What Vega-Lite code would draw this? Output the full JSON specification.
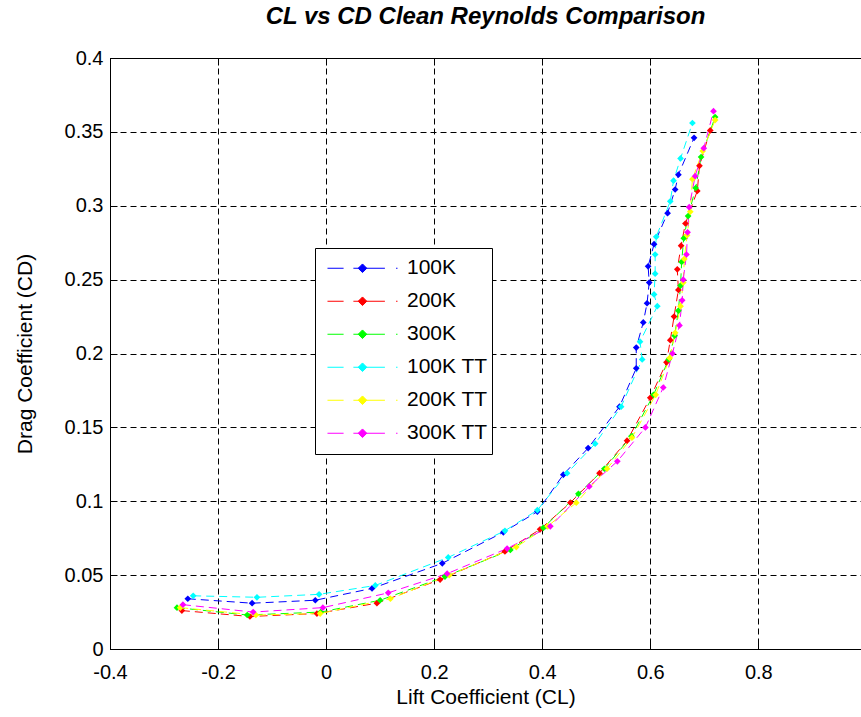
{
  "$schema": "https://vega.github.io/schema/vega-lite/v6.json",
  "autosize": {"type": "none"},
  "padding": {"left": 110, "top": 58, "right": 0, "bottom": 68},
  "width": 751,
  "height": 591,
  "background": "white",
  "title": {
    "text": "CL vs CD Clean Reynolds Comparison",
    "font": "Liberation Sans",
    "fontSize": 24,
    "fontWeight": "bold",
    "fontStyle": "italic",
    "color": "#000",
    "anchor": "middle",
    "offset": 19
  },
  "config": {
    "view": {"stroke": "#000", "strokeWidth": 1},
    "axis": {
      "labelFont": "Liberation Sans",
      "titleFont": "Liberation Sans",
      "labelColor": "#000",
      "titleColor": "#000",
      "labelFontSize": 20,
      "titleFontSize": 21,
      "titleFontWeight": "normal",
      "domainColor": "#000",
      "tickColor": "#000",
      "gridColor": "#000",
      "gridDash": [6, 4],
      "gridOpacity": 1,
      "gridWidth": 1
    }
  },
  "data": {
    "values": [
      {"s": "100K", "i": 1, "cl": -0.256, "cd": 0.034},
      {"s": "100K", "i": 2, "cl": -0.137, "cd": 0.031},
      {"s": "100K", "i": 3, "cl": -0.020, "cd": 0.033},
      {"s": "100K", "i": 4, "cl": 0.085, "cd": 0.041},
      {"s": "100K", "i": 5, "cl": 0.215, "cd": 0.058},
      {"s": "100K", "i": 6, "cl": 0.328, "cd": 0.079},
      {"s": "100K", "i": 7, "cl": 0.391, "cd": 0.093},
      {"s": "100K", "i": 8, "cl": 0.439, "cd": 0.118},
      {"s": "100K", "i": 9, "cl": 0.485, "cd": 0.136},
      {"s": "100K", "i": 10, "cl": 0.543, "cd": 0.164},
      {"s": "100K", "i": 11, "cl": 0.574, "cd": 0.190},
      {"s": "100K", "i": 12, "cl": 0.574, "cd": 0.204},
      {"s": "100K", "i": 13, "cl": 0.587, "cd": 0.221},
      {"s": "100K", "i": 14, "cl": 0.594, "cd": 0.234},
      {"s": "100K", "i": 15, "cl": 0.598, "cd": 0.248},
      {"s": "100K", "i": 16, "cl": 0.596, "cd": 0.259},
      {"s": "100K", "i": 17, "cl": 0.607, "cd": 0.274},
      {"s": "100K", "i": 18, "cl": 0.632, "cd": 0.295},
      {"s": "100K", "i": 19, "cl": 0.646, "cd": 0.311},
      {"s": "100K", "i": 20, "cl": 0.652, "cd": 0.321},
      {"s": "100K", "i": 21, "cl": 0.681, "cd": 0.346},

      {"s": "200K", "i": 1, "cl": -0.267, "cd": 0.026},
      {"s": "200K", "i": 2, "cl": -0.141, "cd": 0.022},
      {"s": "200K", "i": 3, "cl": -0.017, "cd": 0.024},
      {"s": "200K", "i": 4, "cl": 0.094, "cd": 0.031},
      {"s": "200K", "i": 5, "cl": 0.211, "cd": 0.047},
      {"s": "200K", "i": 6, "cl": 0.331, "cd": 0.066},
      {"s": "200K", "i": 7, "cl": 0.396, "cd": 0.081},
      {"s": "200K", "i": 8, "cl": 0.452, "cd": 0.099},
      {"s": "200K", "i": 9, "cl": 0.506, "cd": 0.119},
      {"s": "200K", "i": 10, "cl": 0.557, "cd": 0.141},
      {"s": "200K", "i": 11, "cl": 0.600, "cd": 0.170},
      {"s": "200K", "i": 12, "cl": 0.630, "cd": 0.194},
      {"s": "200K", "i": 13, "cl": 0.637, "cd": 0.209},
      {"s": "200K", "i": 14, "cl": 0.644, "cd": 0.225},
      {"s": "200K", "i": 15, "cl": 0.652, "cd": 0.243},
      {"s": "200K", "i": 16, "cl": 0.650, "cd": 0.257},
      {"s": "200K", "i": 17, "cl": 0.657, "cd": 0.273},
      {"s": "200K", "i": 18, "cl": 0.665, "cd": 0.288},
      {"s": "200K", "i": 19, "cl": 0.687, "cd": 0.310},
      {"s": "200K", "i": 20, "cl": 0.691, "cd": 0.327},
      {"s": "200K", "i": 21, "cl": 0.711, "cd": 0.351},

      {"s": "300K", "i": 1, "cl": -0.276, "cd": 0.028},
      {"s": "300K", "i": 2, "cl": -0.146, "cd": 0.023},
      {"s": "300K", "i": 3, "cl": -0.010, "cd": 0.025},
      {"s": "300K", "i": 4, "cl": 0.100, "cd": 0.033},
      {"s": "300K", "i": 5, "cl": 0.220, "cd": 0.049},
      {"s": "300K", "i": 6, "cl": 0.341, "cd": 0.067},
      {"s": "300K", "i": 7, "cl": 0.402, "cd": 0.082},
      {"s": "300K", "i": 8, "cl": 0.467, "cd": 0.105},
      {"s": "300K", "i": 9, "cl": 0.515, "cd": 0.122},
      {"s": "300K", "i": 10, "cl": 0.565, "cd": 0.144},
      {"s": "300K", "i": 11, "cl": 0.606, "cd": 0.172},
      {"s": "300K", "i": 12, "cl": 0.634, "cd": 0.196},
      {"s": "300K", "i": 13, "cl": 0.645, "cd": 0.212},
      {"s": "300K", "i": 14, "cl": 0.652, "cd": 0.229},
      {"s": "300K", "i": 15, "cl": 0.656, "cd": 0.246},
      {"s": "300K", "i": 16, "cl": 0.658, "cd": 0.262},
      {"s": "300K", "i": 17, "cl": 0.662, "cd": 0.278},
      {"s": "300K", "i": 18, "cl": 0.670, "cd": 0.293},
      {"s": "300K", "i": 19, "cl": 0.684, "cd": 0.312},
      {"s": "300K", "i": 20, "cl": 0.694, "cd": 0.333},
      {"s": "300K", "i": 21, "cl": 0.720, "cd": 0.360},

      {"s": "100K TT", "i": 1, "cl": -0.246, "cd": 0.036},
      {"s": "100K TT", "i": 2, "cl": -0.128, "cd": 0.035},
      {"s": "100K TT", "i": 3, "cl": -0.013, "cd": 0.037},
      {"s": "100K TT", "i": 4, "cl": 0.091, "cd": 0.043},
      {"s": "100K TT", "i": 5, "cl": 0.226, "cd": 0.062},
      {"s": "100K TT", "i": 6, "cl": 0.331, "cd": 0.080},
      {"s": "100K TT", "i": 7, "cl": 0.391, "cd": 0.094},
      {"s": "100K TT", "i": 8, "cl": 0.446, "cd": 0.119},
      {"s": "100K TT", "i": 9, "cl": 0.498, "cd": 0.139},
      {"s": "100K TT", "i": 10, "cl": 0.546, "cd": 0.164},
      {"s": "100K TT", "i": 11, "cl": 0.585, "cd": 0.196},
      {"s": "100K TT", "i": 12, "cl": 0.581, "cd": 0.208},
      {"s": "100K TT", "i": 13, "cl": 0.613, "cd": 0.232},
      {"s": "100K TT", "i": 14, "cl": 0.607, "cd": 0.240},
      {"s": "100K TT", "i": 15, "cl": 0.609, "cd": 0.254},
      {"s": "100K TT", "i": 16, "cl": 0.609, "cd": 0.267},
      {"s": "100K TT", "i": 17, "cl": 0.611, "cd": 0.279},
      {"s": "100K TT", "i": 18, "cl": 0.637, "cd": 0.303},
      {"s": "100K TT", "i": 19, "cl": 0.643, "cd": 0.317},
      {"s": "100K TT", "i": 20, "cl": 0.656, "cd": 0.332},
      {"s": "100K TT", "i": 21, "cl": 0.678, "cd": 0.356},

      {"s": "200K TT", "i": 1, "cl": -0.270, "cd": 0.028},
      {"s": "200K TT", "i": 2, "cl": -0.130, "cd": 0.023},
      {"s": "200K TT", "i": 3, "cl": -0.011, "cd": 0.024},
      {"s": "200K TT", "i": 4, "cl": 0.119, "cd": 0.034},
      {"s": "200K TT", "i": 5, "cl": 0.228, "cd": 0.050},
      {"s": "200K TT", "i": 6, "cl": 0.352, "cd": 0.069},
      {"s": "200K TT", "i": 7, "cl": 0.410, "cd": 0.083},
      {"s": "200K TT", "i": 8, "cl": 0.463, "cd": 0.099},
      {"s": "200K TT", "i": 9, "cl": 0.520, "cd": 0.122},
      {"s": "200K TT", "i": 10, "cl": 0.566, "cd": 0.143},
      {"s": "200K TT", "i": 11, "cl": 0.610, "cd": 0.172},
      {"s": "200K TT", "i": 12, "cl": 0.636, "cd": 0.197},
      {"s": "200K TT", "i": 13, "cl": 0.646, "cd": 0.214},
      {"s": "200K TT", "i": 14, "cl": 0.656, "cd": 0.232},
      {"s": "200K TT", "i": 15, "cl": 0.661, "cd": 0.248},
      {"s": "200K TT", "i": 16, "cl": 0.663, "cd": 0.264},
      {"s": "200K TT", "i": 17, "cl": 0.668, "cd": 0.280},
      {"s": "200K TT", "i": 18, "cl": 0.674, "cd": 0.296},
      {"s": "200K TT", "i": 19, "cl": 0.678, "cd": 0.318},
      {"s": "200K TT", "i": 20, "cl": 0.697, "cd": 0.337},
      {"s": "200K TT", "i": 21, "cl": 0.720, "cd": 0.358},

      {"s": "300K TT", "i": 1, "cl": -0.265, "cd": 0.030},
      {"s": "300K TT", "i": 2, "cl": -0.135, "cd": 0.025},
      {"s": "300K TT", "i": 3, "cl": -0.006, "cd": 0.028},
      {"s": "300K TT", "i": 4, "cl": 0.115, "cd": 0.038},
      {"s": "300K TT", "i": 5, "cl": 0.224, "cd": 0.051},
      {"s": "300K TT", "i": 6, "cl": 0.335, "cd": 0.068},
      {"s": "300K TT", "i": 7, "cl": 0.415, "cd": 0.083},
      {"s": "300K TT", "i": 8, "cl": 0.487, "cd": 0.110},
      {"s": "300K TT", "i": 9, "cl": 0.539, "cd": 0.127},
      {"s": "300K TT", "i": 10, "cl": 0.591, "cd": 0.150},
      {"s": "300K TT", "i": 11, "cl": 0.624, "cd": 0.177},
      {"s": "300K TT", "i": 12, "cl": 0.641, "cd": 0.200},
      {"s": "300K TT", "i": 13, "cl": 0.654, "cd": 0.219},
      {"s": "300K TT", "i": 14, "cl": 0.659, "cd": 0.236},
      {"s": "300K TT", "i": 15, "cl": 0.661, "cd": 0.250},
      {"s": "300K TT", "i": 16, "cl": 0.667, "cd": 0.267},
      {"s": "300K TT", "i": 17, "cl": 0.669, "cd": 0.282},
      {"s": "300K TT", "i": 18, "cl": 0.672, "cd": 0.299},
      {"s": "300K TT", "i": 19, "cl": 0.683, "cd": 0.320},
      {"s": "300K TT", "i": 20, "cl": 0.699, "cd": 0.339},
      {"s": "300K TT", "i": 21, "cl": 0.717, "cd": 0.364}
    ]
  },
  "layer": [
    {
      "mark": {
        "type": "line",
        "strokeWidth": 1,
        "strokeDash": [8, 5],
        "point": {"shape": "diamond", "filled": true, "size": 45}
      },
      "encoding": {
        "x": {
          "field": "cl",
          "type": "quantitative",
          "scale": {"domain": [-0.4, 0.99], "nice": false, "zero": false},
          "axis": {
            "orient": "bottom",
            "title": "Lift Coefficient (CL)",
            "values": [-0.4, -0.2, 0, 0.2, 0.4, 0.6, 0.8],
            "labelExpr": "replace(format(datum.value, '~g'), '−', '-')",
            "grid": true,
            "tickSize": -7,
            "labelPadding": 20,
            "titlePadding": 4,
            "labelFlush": false
          }
        },
        "y": {
          "field": "cd",
          "type": "quantitative",
          "scale": {"domain": [0, 0.4], "nice": false, "zero": false},
          "axis": {
            "orient": "left",
            "title": "Drag Coefficient (CD)",
            "values": [0, 0.05, 0.1, 0.15, 0.2, 0.25, 0.3, 0.35, 0.4],
            "labelExpr": "format(datum.value, '~g')",
            "grid": true,
            "tickSize": -7,
            "labelPadding": 14,
            "titlePadding": 29,
            "labelFlush": false
          }
        },
        "color": {
          "field": "s",
          "type": "nominal",
          "scale": {
            "domain": ["100K", "200K", "300K", "100K TT", "200K TT", "300K TT"],
            "range": ["#0000FF", "#FF0000", "#00FF00", "#00FFFF", "#FFFF00", "#FF00FF"]
          },
          "legend": {
            "title": null,
            "orient": "none",
            "legendX": 205,
            "legendY": 190,
            "fillColor": "white",
            "strokeColor": "#000",
            "padding": 4,
            "labelFont": "Liberation Sans",
            "labelFontSize": 21,
            "labelColor": "#000",
            "labelOffset": 1,
            "symbolType": "M-0.814,0H-0.44M-0.212,0H0.521M0.78,0H0.814M0,-0.1L0.1,0L0,0.1L-0.1,0Z",
            "symbolSize": 7396,
            "symbolStrokeWidth": 1,
            "symbolDash": [],
            "clipHeight": 32.5,
            "rowPadding": 0
          }
        },
        "order": {"field": "i", "type": "quantitative"}
      }
    },
    {
      "mark": {"type": "point", "opacity": 0},
      "encoding": {
        "x": {
          "field": "cl",
          "type": "quantitative",
          "axis": {
            "orient": "top",
            "title": null,
            "labels": false,
            "grid": false,
            "domain": false,
            "values": [-0.4, -0.2, 0, 0.2, 0.4, 0.6, 0.8],
            "tickSize": -7
          }
        },
        "y": {"field": "cd", "type": "quantitative", "axis": null}
      }
    }
  ],
  "resolve": {"axis": {"x": "independent", "y": "independent"}}
}
